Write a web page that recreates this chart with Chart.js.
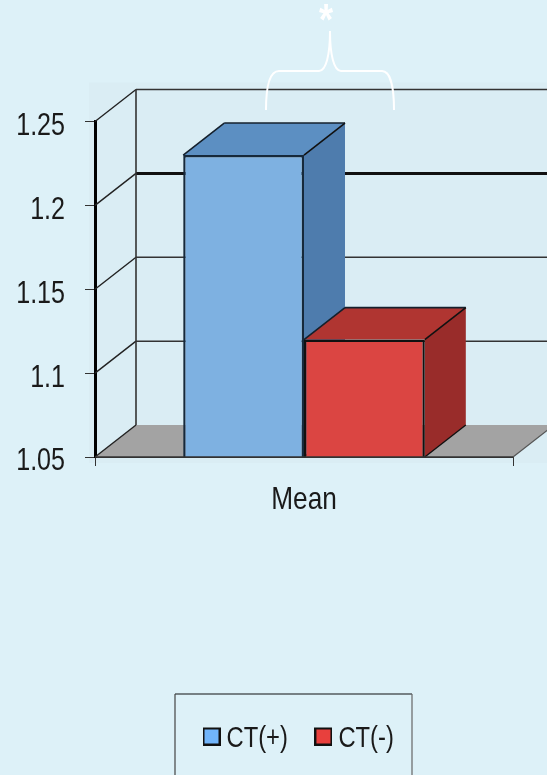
<!DOCTYPE html>
<html>
<head>
<meta charset="utf-8">
<style>
  html, body { margin: 0; padding: 0; background: #DDF1F8; }
  canvas { display: block; }
</style>
<script src="https://cdn.jsdelivr.net/npm/chart.js@4/dist/chart.umd.min.js"></script>
</head>
<body>
<canvas id="chart" width="547" height="775"></canvas>
<script>
// Mean values by CT status
const categories = ['Mean'];
const ctPositive = [1.23];
const ctNegative = [1.12];
const seriesNames = ['CT(+)', 'CT(-)'];
const yMin = 1.05;
const yMax = 1.25;
const yStep = 0.05;

// Box colours: front face, top face, side face, legend swatch
const blueFaces = { front: '#7EB1E1', top: '#5C8FC2', side: '#4E7CAD', swatch: '#71B5FB' };
const redFaces = { front: '#DB4542', top: '#B03531', side: '#992C2A', swatch: '#E8403D' };

const FONT = '"Liberation Sans", sans-serif';
const NARROW = 0.82;
const TEXT_DROP = 5;
const PAGE = '#DDF1F8';
const WALL = '#DAEDF4';
const FLOOR = '#A3A3A3';
const DEPTH_X = 41;
const DEPTH_Y = -32;

const canvas = document.getElementById('chart');
const context = canvas.getContext('2d');

// All labels are set in a condensed cut of the sans face
const plainFillText = context.fillText.bind(context);
const plainMeasure = context.measureText.bind(context);
context.fillText = function (text, x, y) {
  context.save();
  context.translate(x, y + TEXT_DROP);
  context.scale(NARROW, 1);
  plainFillText(text, 0, 0);
  context.restore();
};
context.measureText = function (text) {
  return { width: plainMeasure(text).width * NARROW };
};

function polygon(ctx, pts, fill, stroke, width) {
  ctx.beginPath();
  pts.forEach(function (p, i) { i ? ctx.lineTo(p[0], p[1]) : ctx.moveTo(p[0], p[1]); });
  ctx.closePath();
  if (fill) { ctx.fillStyle = fill; ctx.fill(); }
  if (stroke) { ctx.strokeStyle = stroke; ctx.lineWidth = width; ctx.stroke(); }
}

function line(ctx, x1, y1, x2, y2, color, width) {
  ctx.beginPath();
  ctx.moveTo(x1, y1);
  ctx.lineTo(x2, y2);
  ctx.strokeStyle = color;
  ctx.lineWidth = width;
  ctx.stroke();
}

// Swatch image used as the legend's point style, so the label sits close to it;
// the square hangs low in its tile to line up with the label's optical centre
function swatch(color) {
  const c = document.createElement('canvas');
  c.width = 18;
  c.height = 24;
  const g = c.getContext('2d');
  g.fillStyle = color;
  g.fillRect(1, 7, 16, 16);
  g.strokeStyle = '#111';
  g.lineWidth = 2;
  g.strokeRect(1, 7, 16, 16);
  return c;
}

// Perspective room behind the bars, and the top and side faces of each box
const boxPlugin = {
  id: 'boxes',
  beforeDraw(chart) {
    const ctx = chart.ctx;
    const a = chart.chartArea;
    ctx.save();
    ctx.fillStyle = WALL;
    ctx.fillRect(a.left - 6, a.top - 39, chart.width, a.bottom - a.top + 45);
    // Legend frame runs off the lower edge of the page
    ctx.fillStyle = PAGE;
    ctx.fillRect(175, 694, 237, 90);
    line(ctx, 175, 694, 412, 694, '#111', 1.2);
    line(ctx, 175, 694, 175, 780, '#444', 1.2);
    line(ctx, 412, 694, 412, 780, '#666', 1.2);
    ctx.restore();
  },
  beforeDatasetsDraw(chart) {
    const ctx = chart.ctx;
    const a = chart.chartArea;
    const y = chart.scales.y;
    const backX = a.left + DEPTH_X;
    ctx.save();

    // Floor
    polygon(ctx, [[a.left, a.bottom], [backX, a.bottom + DEPTH_Y],
      [a.right + DEPTH_X, a.bottom + DEPTH_Y], [a.right, a.bottom]], FLOOR);
    line(ctx, a.right, a.bottom, a.right + DEPTH_X, a.bottom + DEPTH_Y, '#555', 1.2);

    // Grid lines on the side wall and back wall
    y.ticks.forEach(function (t) {
      const py = y.getPixelForValue(t.value);
      line(ctx, a.left, py, backX, py + DEPTH_Y, '#222', 1.4);
      if (t.value > yMin) {
        const heavy = Math.abs(t.value - 1.2) < 1e-6;
        line(ctx, backX, py + DEPTH_Y, chart.width, py + DEPTH_Y, heavy ? '#111' : '#333', heavy ? 3 : 1.5);
      }
    });
    line(ctx, backX, a.top + DEPTH_Y, backX, a.bottom + DEPTH_Y, '#333', 1.6);

    // Top and side face of each box, left series first
    [blueFaces, redFaces].forEach(function (faces, i) {
      const bar = chart.getDatasetMeta(i).data[0];
      const l = bar.x - bar.width / 2;
      const r = bar.x + bar.width / 2;
      const foot = a.bottom;
      polygon(ctx, [[r, bar.y], [r + DEPTH_X, bar.y + DEPTH_Y], [r + DEPTH_X, foot + DEPTH_Y], [r, foot]], faces.side);
      polygon(ctx, [[l, bar.y], [l + DEPTH_X, bar.y + DEPTH_Y], [r + DEPTH_X, bar.y + DEPTH_Y], [r, bar.y]], faces.top);
      line(ctx, l, bar.y, l + DEPTH_X, bar.y + DEPTH_Y, '#14202c', 1.6);
      line(ctx, l + DEPTH_X, bar.y + DEPTH_Y, r + DEPTH_X, bar.y + DEPTH_Y, '#14202c', 1.6);
      line(ctx, r, bar.y, r + DEPTH_X, bar.y + DEPTH_Y, '#111', 1.6);
      line(ctx, r, foot, r + DEPTH_X, foot + DEPTH_Y, '#111', 1.4);
    });
    ctx.restore();
  },
  afterDatasetsDraw(chart) {
    const a = chart.chartArea;
    line(chart.ctx, a.left, a.bottom, a.right, a.bottom, '#333', 1.6);
  },
  afterDraw(chart) {
    // Significance brace and asterisk spanning both boxes
    const ctx = chart.ctx;
    ctx.save();
    ctx.strokeStyle = '#FFFFFF';
    ctx.lineWidth = 2;
    ctx.beginPath();
    ctx.moveTo(266, 110);
    ctx.bezierCurveTo(266, 90, 269, 71, 279, 71);
    ctx.lineTo(319, 71);
    ctx.bezierCurveTo(326, 71, 330, 55, 330, 31);
    ctx.bezierCurveTo(330, 55, 334, 71, 341, 71);
    ctx.lineTo(382, 71);
    ctx.bezierCurveTo(391, 71, 394, 90, 394, 110);
    ctx.stroke();
    ctx.fillStyle = '#FFFFFF';
    ctx.font = 'bold 44px ' + FONT;
    ctx.textAlign = 'center';
    ctx.textBaseline = 'alphabetic';
    ctx.fillText('*', 326, 30);
    ctx.restore();
  },
  afterLayout(chart) {
    // Legend sits inside its frame, to the right of the page centre
    const legend = chart.legend;
    const pad = legend.options.labels.padding;
    legend.left = 211 - pad;
    legend.right = 211 + legend.lineWidths[0];
    legend.top = 684;
    legend.bottom = legend.top + legend.height;
  }
};

new Chart(canvas, {
  type: 'bar',
  data: {
    labels: categories,
    datasets: [
      { label: seriesNames[0], data: ctPositive, backgroundColor: blueFaces.front, borderColor: '#16293b', borderWidth: 2.4 },
      { label: seriesNames[1], data: ctNegative, backgroundColor: redFaces.front, borderColor: '#111', borderWidth: 2.4 }
    ]
  },
  options: {
    responsive: false,
    animation: false,
    events: [],
    layout: { padding: { left: 0, top: 121.5, right: 34, bottom: 184 } },
    datasets: { bar: { categoryPercentage: 0.578, barPercentage: 1 } },
    plugins: {
      title: { display: false },
      tooltip: { enabled: false },
      legend: {
        position: 'bottom',
        labels: {
          color: '#1a1a1a',
          font: { family: FONT, size: 29 },
          usePointStyle: true,
          pointStyleWidth: 1,
          padding: 35,
          generateLabels() {
            return [blueFaces, redFaces].map(function (faces, i) {
              return {
                text: seriesNames[i],
                pointStyle: swatch(faces.swatch),
                fontColor: '#1a1a1a',
                datasetIndex: i
              };
            });
          }
        }
      }
    },
    scales: {
      x: {
        grid: { offset: true, drawOnChartArea: false, color: '#333', tickLength: 9, lineWidth: 1 },
        border: { color: '#333', width: 1 },
        ticks: { color: '#1a1a1a', font: { family: FONT, size: 32 }, padding: 10, maxRotation: 0 },
        afterFit(s) { s.height = 60; }
      },
      y: {
        min: yMin,
        max: yMax,
        grid: { drawOnChartArea: false, color: '#333', tickLength: 10, lineWidth: 1 },
        border: { color: '#000', width: 3 },
        ticks: {
          stepSize: yStep,
          color: '#1a1a1a',
          font: { family: FONT, size: 30.6 },
          padding: 20,
          callback(v) { return String(Math.round(v * 100) / 100); }
        },
        afterFit(s) { s.width = 95; }
      }
    }
  },
  plugins: [boxPlugin]
});
</script>
</body>
</html>
